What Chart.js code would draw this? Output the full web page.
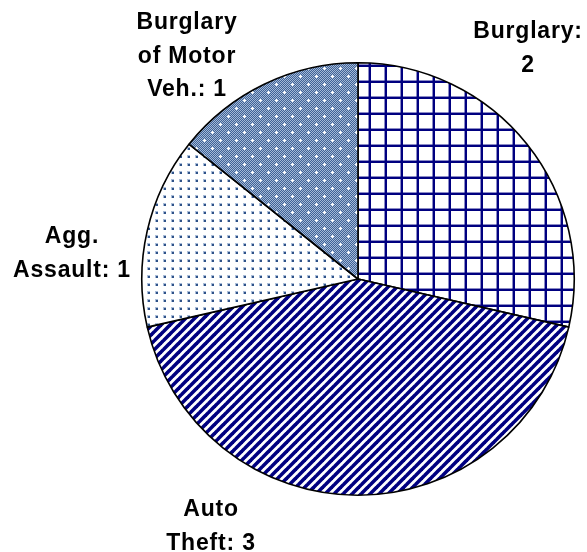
<!DOCTYPE html>
<html>
<head>
<meta charset="utf-8">
<script src="https://cdn.jsdelivr.net/npm/chart.js@4.4.1/dist/chart.umd.min.js"></script>
<style>
  html, body { margin: 0; padding: 0; background: #fff; }
  #wrap { width: 587px; height: 552px; }
</style>
</head>
<body>
<div id="wrap"><canvas id="chart" width="587" height="552"></canvas></div>
<script>
const categories = ["Burglary", "Auto Theft", "Agg. Assault", "Burglary of Motor Veh."];
const counts = [2, 3, 1, 1];
const labelLines = [
  ["Burglary:", "2"],
  ["Auto", "Theft: 3"],
  ["Agg.", "Assault: 1"],
  ["Burglary", "of Motor", "Veh.: 1"],
];

// where each label block sits (centre x, first baseline y)
const labelPos = [
  { x: 528, y: 38 },
  { x: 211, y: 516 },
  { x: 72, y: 243 },
  { x: 187, y: 29 },
];
const lineGap = 33.5;

const ctx = document.querySelector("#chart").getContext("2d");

function tile(w, h, draw) {
  const c = document.createElement("canvas");
  c.width = w;
  c.height = h;
  const t = c.getContext("2d");
  draw(t, w, h);
  return ctx.createPattern(c, "repeat");
}

// grid (Burglary)
const gridPattern = tile(16, 16, (t, w, h) => {
  t.fillStyle = "#fff";
  t.fillRect(0, 0, w, h);
  t.fillStyle = "rgba(0,0,128,0.45)";
  t.fillRect(0, 0, 3, h);
  t.fillRect(0, 0, w, 3);
  t.fillStyle = "#000080";
  t.fillRect(1, 0, 2, h);
  t.fillRect(0, 1, w, 2);
});

// diagonal stripes (Auto Theft)
const stripePattern = tile(9, 9, (t, w, h) => {
  t.fillStyle = "#fff";
  t.fillRect(0, 0, w, h);
  t.strokeStyle = "#000080";
  t.lineWidth = 3.6;
  for (let k = -1; k <= 1; k++) {
    t.beginPath();
    t.moveTo(k * w - 1, h + 1);
    t.lineTo(k * w + w + 1, -1);
    t.stroke();
  }
});

// sparse dots (Agg. Assault)
const dotPattern = tile(8, 8, (t, w, h) => {
  t.fillStyle = "#fff";
  t.fillRect(0, 0, w, h);
  t.fillStyle = "#a9bcd8";
  t.fillRect(3, 3, 3, 3);
  t.fillStyle = "#2f5288";
  t.fillRect(4, 4, 2, 2);
});

// dense checker with white crosses (Burglary of Motor Veh.)
const checkerPattern = tile(16, 16, (t, w, h) => {
  t.fillStyle = "#3f6296";
  t.fillRect(0, 0, w, h);
  t.fillStyle = "#a3b9d8";
  for (let y = 0; y < h; y++) {
    for (let x = 0; x < w; x++) {
      if ((x + y) % 2 === 0) t.fillRect(x, y, 1, 1);
    }
  }
  t.fillStyle = "#fff";
  [[4, 4], [12, 12]].forEach(([cx, cy]) => {
    t.fillRect(cx - 1, cy, 3, 1);
    t.fillRect(cx, cy - 1, 1, 3);
  });
});

const sliceLabels = {
  id: "sliceLabels",
  afterDraw(chart) {
    const c = chart.ctx;
    c.save();
    c.fillStyle = "#000";
    c.font = "bold 23px 'Liberation Sans', Arial, sans-serif";
    c.letterSpacing = "0.8px";
    c.textAlign = "center";
    c.textBaseline = "alphabetic";
    labelLines.forEach((lines, i) => {
      const p = labelPos[i];
      lines.forEach((line, j) => {
        c.fillText(line, p.x, p.y + j * lineGap);
      });
    });
    c.restore();
  },
};

new Chart(ctx, {
  type: "pie",
  data: {
    labels: categories,
    datasets: [
      {
        data: counts,
        backgroundColor: [gridPattern, stripePattern, dotPattern, checkerPattern],
        borderColor: "#000",
        borderWidth: 1.6,
      },
    ],
  },
  options: {
    responsive: false,
    animation: false,
    layout: { padding: { left: 141, right: 12, top: 62, bottom: 56 } },
    plugins: {
      legend: { display: false },
      tooltip: { enabled: false },
    },
  },
  plugins: [sliceLabels],
});
</script>
</body>
</html>
